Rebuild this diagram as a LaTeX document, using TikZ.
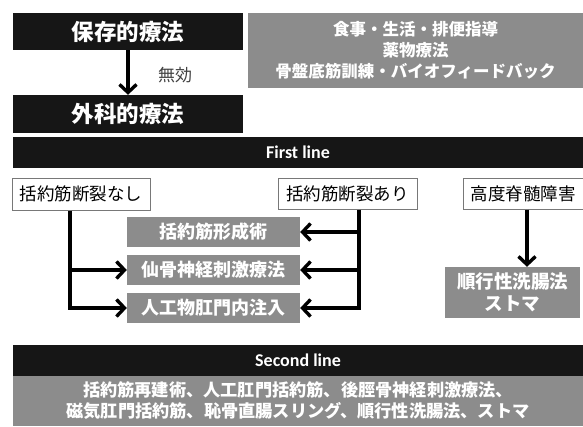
\documentclass[tikz,border=0pt]{standalone}
\usepackage{fontspec}
\setmainfont{Carlito}
\newfontfamily\jp{Noto Sans CJK JP}
\usetikzlibrary{arrows.meta}
\definecolor{bargray}{RGB}{140,140,140}
\definecolor{barblack}{RGB}{22,22,22}
\definecolor{edgegray}{RGB}{120,120,120}
\tikzset{
  blackbox/.style={fill=barblack, text=white, inner sep=0pt, anchor=center},
  graybox/.style={fill=bargray, text=white, inner sep=0pt, anchor=center, font=\jp\bfseries\fontsize{18}{21}\selectfont, align=center},
  whitebox/.style={fill=white, draw=edgegray, line width=1pt, inner sep=0pt, anchor=center, font=\jp\fontsize{17.5}{20}\selectfont},
  arr/.style={line width=3.4pt, -{Straight Barb[length=8pt, width=17pt, line width=3.4pt]}},
  conn/.style={line width=3.4pt}
}
\begin{document}
\begin{tikzpicture}[x=1pt, y=-1pt]
\useasboundingbox (0,0) rectangle (583,426);
\fill[white] (0,0) rectangle (583,426);
\node[blackbox, minimum width=230pt, minimum height=37pt, font=\jp\bfseries\fontsize{22.5}{24}\selectfont] (cons) at (128,31.5) {保存的療法};
\node[graybox, minimum width=335pt, minimum height=75pt, font=\jp\bfseries\fontsize{16.5}{21}\selectfont] (top) at (415.5,50.5) {食事・生活・排便指導\\薬物療法\\骨盤底筋訓練・バイオフィードバック};
\node[blackbox, minimum width=230pt, minimum height=38pt, font=\jp\bfseries\fontsize{22.5}{24}\selectfont] (surg) at (128,114) {外科的療法};
\node[font=\jp\fontsize{17}{18}\selectfont, text=black!75] (ineff) at (175,75) {無効};
\node[blackbox, minimum width=570pt, minimum height=31pt, font=\bfseries\fontsize{18}{20}\selectfont] (first) at (298,152.5) {First line};
\node[whitebox, minimum width=138pt, minimum height=32pt] (nodiv) at (81,194) {括約筋断裂なし};
\node[whitebox, minimum width=139pt, minimum height=31pt] (div) at (347.5,193.5) {括約筋断裂あり};
\node[whitebox, minimum width=120pt, minimum height=31pt] (spinal) at (523,193.5) {高度脊髄障害};
\node[graybox, minimum width=173pt, minimum height=30pt] (g1) at (213.5,232) {括約筋形成術};
\node[graybox, minimum width=173pt, minimum height=30pt] (g2) at (213.5,270) {仙骨神経刺激療法};
\node[graybox, minimum width=173pt, minimum height=30pt] (g3) at (213.5,308) {人工物肛門内注入};
\node[graybox, minimum width=135pt, minimum height=51pt, font=\jp\bfseries\fontsize{18.5}{22}\selectfont] (ant) at (512.5,292.5) {順行性洗腸法\\ストマ};
\node[blackbox, minimum width=570pt, minimum height=31pt, font=\bfseries\fontsize{18}{20}\selectfont] (second) at (298,360.5) {Second line};
\node[graybox, minimum width=570pt, minimum height=50pt, font=\jp\bfseries\fontsize{17.2}{21}\selectfont] (secbody) at (298,401) {括約筋再建術、人工肛門括約筋、後脛骨神経刺激療法、\\磁気肛門括約筋、恥骨直腸スリング、順行性洗腸法、ストマ};
% connectors
\draw[arr] (cons.south) -- (surg.north);
\coordinate (lx) at (70,0);
\coordinate (rx) at (359,0);
\coordinate (sx) at (527,0);
\draw[conn] (lx |- nodiv.south) -- (lx |- g3.west);
\draw[arr] ([xshift=-1.7pt]lx |- g3.west) -- (g3.west);
\draw[arr] (lx |- g2.west) -- (g2.west);
\draw[conn] (rx |- div.south) -- (rx |- g3.east);
\draw[arr] ([xshift=1.7pt]rx |- g3.east) -- (g3.east);
\draw[arr] (rx |- g2.east) -- (g2.east);
\draw[arr] (rx |- g1.east) -- (g1.east);
\draw[arr] (sx |- spinal.south) -- (sx |- ant.north);
\end{tikzpicture}
\end{document}
